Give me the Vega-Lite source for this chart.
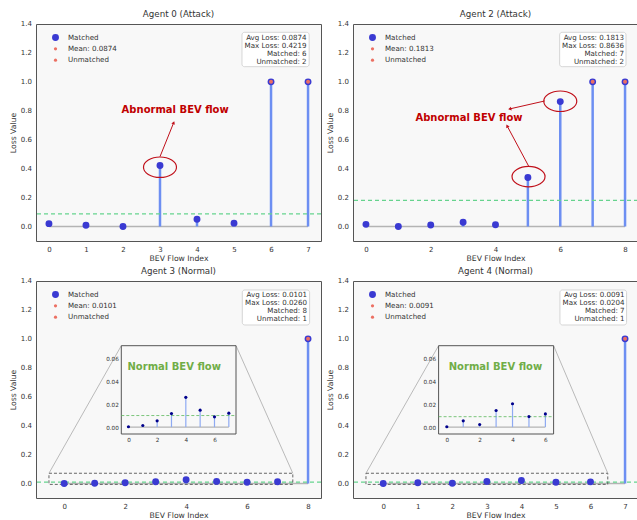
{
"$schema": "https://vega.github.io/schema/vega-lite/v6.json",
"background": "white",
"padding": {"left": 8, "top": 9, "right": 0, "bottom": 0},
"datasets": {
 "a0": [{"i":0,"loss":0.02,"m":1},{"i":1,"loss":0.009,"m":1},{"i":2,"loss":0.0,"m":1},{"i":3,"loss":0.4219,"m":1},{"i":4,"loss":0.05,"m":1},{"i":5,"loss":0.0235,"m":1},{"i":6,"loss":1.0,"m":0},{"i":7,"loss":1.0,"m":0}],
 "a2": [{"i":0,"loss":0.015,"m":1},{"i":1,"loss":0.0,"m":1},{"i":2,"loss":0.01,"m":1},{"i":3,"loss":0.03,"m":1},{"i":4,"loss":0.012,"m":1},{"i":5,"loss":0.3385,"m":1},{"i":6,"loss":0.8636,"m":1},{"i":7,"loss":1.0,"m":0},{"i":8,"loss":1.0,"m":0}],
 "a3": [{"i":0,"loss":0.0003,"m":1},{"i":1,"loss":0.0014,"m":1},{"i":2,"loss":0.0055,"m":1},{"i":3,"loss":0.0118,"m":1},{"i":4,"loss":0.026,"m":1},{"i":5,"loss":0.0148,"m":1},{"i":6,"loss":0.009,"m":1},{"i":7,"loss":0.0122,"m":1},{"i":8,"loss":1.0,"m":0}],
 "a4": [{"i":0,"loss":0.0003,"m":1},{"i":1,"loss":0.0055,"m":1},{"i":2,"loss":0.0023,"m":1},{"i":3,"loss":0.0145,"m":1},{"i":4,"loss":0.0204,"m":1},{"i":5,"loss":0.0092,"m":1},{"i":6,"loss":0.0115,"m":1},{"i":7,"loss":1.0,"m":0}],
 "yt": [{"v":0},{"v":0.2},{"v":0.4},{"v":0.6},{"v":0.8},{"v":1.0},{"v":1.2},{"v":1.4}]
},
"columns": 2,
"spacing": {"row": 3, "column": 2},
"resolve": {"scale": {"color": "independent", "size": "independent"}, "legend": {"color": "independent", "size": "independent"}},
"concat": [
 {
  "title": "Agent 0 (Attack)",
  "width": 285, "height": 217,
  "data": {"name": "a0"},
  "layer": [
   {"data": {"values": [{}]}, "mark": {"type": "rule", "color": "#b4b4b4", "strokeWidth": 1.5},
    "encoding": {"x": {"datum": 0}, "x2": {"datum": 7}, "y": {"datum": 0}}},
   {"mark": {"type": "rule", "color": "#6d8ff2", "strokeWidth": 2.5},
    "encoding": {
     "x": {"field": "i", "type": "quantitative", "scale": {"domain": [-0.35, 7.35], "nice": false, "zero": false}, "axis": {"title": "BEV Flow Index", "values": [0,1,2,3,4,5,6,7], "format": "d", "labelOverlap": false}},
     "y": {"field": "loss", "type": "quantitative", "scale": {"domain": [-0.1, 1.4], "nice": false, "zero": false}, "axis": {"title": "Loss Value", "values": [0,0.2,0.4,0.6,0.8,1,1.2,1.4], "labels": false, "titlePadding": 19}},
     "y2": {"datum": 0}}},
   {"data": {"name": "yt"}, "mark": {"type": "text", "align": "right", "baseline": "middle", "dx": -4, "fontSize": 7, "color": "#333333"},
    "encoding": {"x": {"datum": -0.35}, "y": {"field": "v", "type": "quantitative"}, "text": {"field": "v", "type": "quantitative", "format": ".1f"}}},
   {"data": {"values": [{}]}, "mark": {"type": "rule", "color": "#66d38e", "strokeWidth": 1.2, "strokeDash": [4, 3]},
    "encoding": {"y": {"datum": 0.0874}}},
   {"mark": {"type": "point", "filled": true, "opacity": 1},
    "encoding": {"x": {"field": "i", "type": "quantitative"}, "y": {"field": "loss", "type": "quantitative"},
     "color": {"datum": "Matched", "type": "nominal", "scale": {"domain": ["Matched", "Mean: 0.0874", "Unmatched"], "range": ["#3a3ad2", "#ec7063", "#ec7063"]}, "legend": {"title": null, "orient": "top-left"}},
     "size": {"datum": "Matched", "type": "nominal", "scale": {"type": "ordinal", "domain": ["Matched", "Mean: 0.0874", "Unmatched"], "range": [48, 10, 10]}, "legend": {"title": null, "orient": "top-left"}}}},
   {"transform": [{"filter": "datum.m == 0"}], "mark": {"type": "point", "filled": true, "opacity": 1, "size": 16},
    "encoding": {"x": {"field": "i", "type": "quantitative"}, "y": {"field": "loss", "type": "quantitative"}, "color": {"datum": "Unmatched", "type": "nominal"}}},
   {"data": {"values": [{}]}, "mark": {"type": "point", "shape": "M -1 0 A 1 0.62 0 1 0 1 0 A 1 0.62 0 1 0 -1 0 Z", "size": 1089, "filled": false, "stroke": "#c0101a", "strokeWidth": 1.2, "opacity": 1},
    "encoding": {"x": {"datum": 3.0}, "y": {"datum": 0.41}}},
   {"data": {"values": [{}]}, "mark": {"type": "rule", "color": "#c0101a", "strokeWidth": 1},
    "encoding": {"x": {"datum": 3.0}, "y": {"datum": 0.483}, "x2": {"datum": 3.37}, "y2": {"datum": 0.718}}},
   {"data": {"values": [{}]}, "mark": {"type": "point", "shape": "triangle-up", "size": 14, "filled": true, "color": "#c0101a", "angle": 22, "opacity": 1},
    "encoding": {"x": {"datum": 3.37}, "y": {"datum": 0.718}}},
   {"data": {"values": [{}]}, "mark": {"type": "text", "text": "Abnormal BEV flow", "fontSize": 10, "fontWeight": "bold", "color": "#c00000", "align": "center", "baseline": "middle"},
    "encoding": {"x": {"datum": 3.41}, "y": {"datum": 0.806}}},
   {"data": {"values": [{}]}, "mark": {"type": "rect", "fill": "white", "stroke": "#cccccc", "strokeWidth": 0.8, "cornerRadius": 2.5},
    "encoding": {"x": {"datum": 5.215}, "x2": {"datum": 7.03}, "y": {"datum": 1.105}, "y2": {"datum": 1.3425}}},
   {"data": {"values": [{}]}, "mark": {"type": "text", "text": ["Avg Loss: 0.0874", "Max Loss: 0.4219", "Matched: 6", "Unmatched: 2"], "fontSize": 7.1, "align": "right", "baseline": "top", "lineHeight": 8, "color": "#333333"},
    "encoding": {"x": {"datum": 6.96}, "y": {"datum": 1.334}}}
  ]
 },
 {
  "title": "Agent 2 (Attack)",
  "width": 285, "height": 217,
  "data": {"name": "a2"},
  "layer": [
   {"data": {"values": [{}]}, "mark": {"type": "rule", "color": "#b4b4b4", "strokeWidth": 1.5},
    "encoding": {"x": {"datum": 0}, "x2": {"datum": 8}, "y": {"datum": 0}}},
   {"mark": {"type": "rule", "color": "#6d8ff2", "strokeWidth": 2.5},
    "encoding": {
     "x": {"field": "i", "type": "quantitative", "scale": {"domain": [-0.4, 8.4], "nice": false, "zero": false}, "axis": {"title": "BEV Flow Index", "values": [0,1,2,3,4,5,6,7,8], "format": "d", "labelOverlap": false}},
     "y": {"field": "loss", "type": "quantitative", "scale": {"domain": [-0.1, 1.4], "nice": false, "zero": false}, "axis": {"title": "Loss Value", "values": [0,0.2,0.4,0.6,0.8,1,1.2,1.4], "labels": false, "titlePadding": 19}},
     "y2": {"datum": 0}}},
   {"data": {"name": "yt"}, "mark": {"type": "text", "align": "right", "baseline": "middle", "dx": -4, "fontSize": 7, "color": "#333333"},
    "encoding": {"x": {"datum": -0.4}, "y": {"field": "v", "type": "quantitative"}, "text": {"field": "v", "type": "quantitative", "format": ".1f"}}},
   {"data": {"values": [{}]}, "mark": {"type": "rule", "color": "#66d38e", "strokeWidth": 1.2, "strokeDash": [4, 3]},
    "encoding": {"y": {"datum": 0.1813}}},
   {"mark": {"type": "point", "filled": true, "opacity": 1},
    "encoding": {"x": {"field": "i", "type": "quantitative"}, "y": {"field": "loss", "type": "quantitative"},
     "color": {"datum": "Matched", "type": "nominal", "scale": {"domain": ["Matched", "Mean: 0.1813", "Unmatched"], "range": ["#3a3ad2", "#ec7063", "#ec7063"]}, "legend": {"title": null, "orient": "top-left"}},
     "size": {"datum": "Matched", "type": "nominal", "scale": {"type": "ordinal", "domain": ["Matched", "Mean: 0.1813", "Unmatched"], "range": [48, 10, 10]}, "legend": {"title": null, "orient": "top-left"}}}},
   {"transform": [{"filter": "datum.m == 0"}], "mark": {"type": "point", "filled": true, "opacity": 1, "size": 16},
    "encoding": {"x": {"field": "i", "type": "quantitative"}, "y": {"field": "loss", "type": "quantitative"}, "color": {"datum": "Unmatched", "type": "nominal"}}},
   {"data": {"values": [{}]}, "mark": {"type": "point", "shape": "M -1 0 A 1 0.62 0 1 0 1 0 A 1 0.62 0 1 0 -1 0 Z", "size": 1089, "filled": false, "stroke": "#c0101a", "strokeWidth": 1.2, "opacity": 1},
    "encoding": {"x": {"datum": 6.0}, "y": {"datum": 0.866}}},
   {"data": {"values": [{}]}, "mark": {"type": "point", "shape": "M -1 0 A 1 0.62 0 1 0 1 0 A 1 0.62 0 1 0 -1 0 Z", "size": 1089, "filled": false, "stroke": "#c0101a", "strokeWidth": 1.2, "opacity": 1},
    "encoding": {"x": {"datum": 5.02}, "y": {"datum": 0.345}}},
   {"data": {"values": [{}]}, "mark": {"type": "rule", "color": "#c0101a", "strokeWidth": 1},
    "encoding": {"x": {"datum": 5.52}, "y": {"datum": 0.868}, "x2": {"datum": 4.44}, "y2": {"datum": 0.813}}},
   {"data": {"values": [{}]}, "mark": {"type": "point", "shape": "triangle-up", "size": 14, "filled": true, "color": "#c0101a", "angle": 257, "opacity": 1},
    "encoding": {"x": {"datum": 4.44}, "y": {"datum": 0.813}}},
   {"data": {"values": [{}]}, "mark": {"type": "rule", "color": "#c0101a", "strokeWidth": 1},
    "encoding": {"x": {"datum": 5.02}, "y": {"datum": 0.419}, "x2": {"datum": 4.36}, "y2": {"datum": 0.695}}},
   {"data": {"values": [{}]}, "mark": {"type": "point", "shape": "triangle-up", "size": 14, "filled": true, "color": "#c0101a", "angle": 332, "opacity": 1},
    "encoding": {"x": {"datum": 4.36}, "y": {"datum": 0.695}}},
   {"data": {"values": [{}]}, "mark": {"type": "text", "text": "Abnormal BEV flow", "fontSize": 10, "fontWeight": "bold", "color": "#c00000", "align": "center", "baseline": "middle"},
    "encoding": {"x": {"datum": 3.18}, "y": {"datum": 0.753}}},
   {"data": {"values": [{}]}, "mark": {"type": "rect", "fill": "white", "stroke": "#cccccc", "strokeWidth": 0.8, "cornerRadius": 2.5},
    "encoding": {"x": {"datum": 5.98}, "x2": {"datum": 8.03}, "y": {"datum": 1.105}, "y2": {"datum": 1.3425}}},
   {"data": {"values": [{}]}, "mark": {"type": "text", "text": ["Avg Loss: 0.1813", "Max Loss: 0.8636", "Matched: 7", "Unmatched: 2"], "fontSize": 7.1, "align": "right", "baseline": "top", "lineHeight": 8, "color": "#333333"},
    "encoding": {"x": {"datum": 7.97}, "y": {"datum": 1.334}}}
  ]
 },
 {
  "title": "Agent 3 (Normal)",
  "width": 285, "height": 217,
  "data": {"name": "a3"},
  "resolve": {"scale": {"x": "independent", "y": "independent"}},
  "layer": [
   {"layer": [
    {"data": {"values": [{}]}, "mark": {"type": "rule", "color": "#b4b4b4", "strokeWidth": 1.5},
     "encoding": {"x": {"datum": 0}, "x2": {"datum": 8}, "y": {"datum": 0}}},
    {"mark": {"type": "rule", "color": "#6d8ff2", "strokeWidth": 2.5},
     "encoding": {
      "x": {"field": "i", "type": "quantitative", "scale": {"domain": [-0.925, 8.425], "nice": false, "zero": false}, "axis": {"title": "BEV Flow Index", "values": [0,2,4,6,8], "format": "d", "labelOverlap": false}},
      "y": {"field": "loss", "type": "quantitative", "scale": {"domain": [-0.1, 1.4], "nice": false, "zero": false}, "axis": {"title": "Loss Value", "values": [0,0.2,0.4,0.6,0.8,1,1.2,1.4], "labels": false, "titlePadding": 19}},
      "y2": {"datum": 0}}},
    {"data": {"name": "yt"}, "mark": {"type": "text", "align": "right", "baseline": "middle", "dx": -4, "fontSize": 7, "color": "#333333"},
     "encoding": {"x": {"datum": -0.925}, "y": {"field": "v", "type": "quantitative"}, "text": {"field": "v", "type": "quantitative", "format": ".1f"}}},
    {"data": {"values": [{}]}, "mark": {"type": "rule", "color": "#66d38e", "strokeWidth": 1.2, "strokeDash": [4, 3]},
     "encoding": {"y": {"datum": 0.0101}}},
    {"data": {"values": [{}]}, "mark": {"type": "rect", "fillOpacity": 0, "stroke": "#555555", "strokeWidth": 0.9, "strokeDash": [3, 2]},
     "encoding": {"x": {"datum": -0.5}, "x2": {"datum": 7.5}, "y": {"datum": -0.006}, "y2": {"datum": 0.071}}},
    {"data": {"values": [{}]}, "mark": {"type": "rule", "color": "#aaaaaa", "strokeWidth": 0.8},
     "encoding": {"x": {"datum": -0.5}, "y": {"datum": 0.071}, "x2": {"datum": 1.874}, "y2": {"datum": 0.953}}},
    {"data": {"values": [{}]}, "mark": {"type": "rule", "color": "#aaaaaa", "strokeWidth": 0.8},
     "encoding": {"x": {"datum": 7.5}, "y": {"datum": 0.071}, "x2": {"datum": 5.637}, "y2": {"datum": 0.953}}},
    {"mark": {"type": "point", "filled": true, "opacity": 1},
     "encoding": {"x": {"field": "i", "type": "quantitative"}, "y": {"field": "loss", "type": "quantitative"},
      "color": {"datum": "Matched", "type": "nominal", "scale": {"domain": ["Matched", "Mean: 0.0101", "Unmatched"], "range": ["#3a3ad2", "#ec7063", "#ec7063"]}, "legend": {"title": null, "orient": "top-left"}},
      "size": {"datum": "Matched", "type": "nominal", "scale": {"type": "ordinal", "domain": ["Matched", "Mean: 0.0101", "Unmatched"], "range": [48, 10, 10]}, "legend": {"title": null, "orient": "top-left"}}}},
    {"transform": [{"filter": "datum.m == 0"}], "mark": {"type": "point", "filled": true, "opacity": 1, "size": 16},
     "encoding": {"x": {"field": "i", "type": "quantitative"}, "y": {"field": "loss", "type": "quantitative"}, "color": {"datum": "Unmatched", "type": "nominal"}}},
    {"data": {"values": [{}]}, "mark": {"type": "rect", "fill": "white", "stroke": "#cccccc", "strokeWidth": 0.8, "cornerRadius": 2.5},
     "encoding": {"x": {"datum": 5.843}, "x2": {"datum": 8.051}, "y": {"datum": 1.096}, "y2": {"datum": 1.338}}},
    {"data": {"values": [{}]}, "mark": {"type": "text", "text": ["Avg Loss: 0.0101", "Max Loss: 0.0260", "Matched: 8", "Unmatched: 1"], "fontSize": 7.1, "align": "right", "baseline": "top", "lineHeight": 8, "color": "#333333"},
     "encoding": {"x": {"datum": 7.966}, "y": {"datum": 1.331}}}
   ]},
   {"transform": [{"filter": "datum.m == 1"}], "layer": [
    {"data": {"values": [{}]}, "mark": {"type": "rect", "fill": "#f8f8f8", "stroke": "#555555", "strokeWidth": 1},
     "encoding": {"x": {"datum": -0.5}, "x2": {"datum": 7.5}, "y": {"datum": -0.006}, "y2": {"datum": 0.071}}},
    {"data": {"values": [{}]}, "mark": {"type": "rule", "color": "#b4b4b4", "strokeWidth": 1.2},
     "encoding": {"x": {"datum": 0}, "x2": {"datum": 7}, "y": {"datum": 0}}},
    {"mark": {"type": "rule", "color": "#8eaaf2", "strokeWidth": 1.2},
     "encoding": {
      "x": {"field": "i", "type": "quantitative", "scale": {"domain": [-0.5, 7.5], "range": [85.3, 200], "nice": false, "zero": false},
       "axis": {"orient": "bottom", "offset": -64, "values": [0,2,4,6], "format": "d", "title": null, "grid": false, "domain": false, "ticks": false, "labelFontSize": 5.7, "labelPadding": 2.5, "zindex": 1, "labelOverlap": false}},
      "y": {"field": "loss", "type": "quantitative", "scale": {"domain": [-0.006, 0.071], "range": [153, 64.7], "nice": false, "zero": false},
       "axis": {"orient": "left", "offset": -85.3, "values": [0,0.02,0.04,0.06], "format": ".2f", "title": null, "grid": false, "domain": false, "ticks": false, "labelFontSize": 5.7, "labelPadding": 3, "zindex": 1, "labelOverlap": false}},
      "y2": {"datum": 0}}},
    {"data": {"values": [{}]}, "mark": {"type": "rule", "color": "#5cb85c", "strokeWidth": 0.8, "strokeDash": [3, 2]},
     "encoding": {"x": {"datum": -0.5}, "x2": {"datum": 7.5}, "y": {"datum": 0.0101}}},
    {"mark": {"type": "point", "filled": true, "opacity": 1, "size": 10, "color": "#00008b"},
     "encoding": {"x": {"field": "i", "type": "quantitative"}, "y": {"field": "loss", "type": "quantitative"}}},
    {"data": {"values": [{}]}, "mark": {"type": "text", "text": "Normal BEV flow", "fontSize": 10, "fontWeight": "bold", "color": "#70ad47", "align": "center", "baseline": "middle"},
     "encoding": {"x": {"datum": 3.19}, "y": {"datum": 0.0527}}}
   ]}
  ]
 },
 {
  "title": "Agent 4 (Normal)",
  "width": 285, "height": 217,
  "data": {"name": "a4"},
  "resolve": {"scale": {"x": "independent", "y": "independent"}},
  "layer": [
   {"layer": [
    {"data": {"values": [{}]}, "mark": {"type": "rule", "color": "#b4b4b4", "strokeWidth": 1.5},
     "encoding": {"x": {"datum": 0}, "x2": {"datum": 7}, "y": {"datum": 0}}},
    {"mark": {"type": "rule", "color": "#6d8ff2", "strokeWidth": 2.5},
     "encoding": {
      "x": {"field": "i", "type": "quantitative", "scale": {"domain": [-0.875, 7.375], "nice": false, "zero": false}, "axis": {"title": "BEV Flow Index", "values": [0,1,2,3,4,5,6,7], "format": "d", "labelOverlap": false}},
      "y": {"field": "loss", "type": "quantitative", "scale": {"domain": [-0.1, 1.4], "nice": false, "zero": false}, "axis": {"title": "Loss Value", "values": [0,0.2,0.4,0.6,0.8,1,1.2,1.4], "labels": false, "titlePadding": 19}},
      "y2": {"datum": 0}}},
    {"data": {"name": "yt"}, "mark": {"type": "text", "align": "right", "baseline": "middle", "dx": -4, "fontSize": 7, "color": "#333333"},
     "encoding": {"x": {"datum": -0.875}, "y": {"field": "v", "type": "quantitative"}, "text": {"field": "v", "type": "quantitative", "format": ".1f"}}},
    {"data": {"values": [{}]}, "mark": {"type": "rule", "color": "#66d38e", "strokeWidth": 1.2, "strokeDash": [4, 3]},
     "encoding": {"y": {"datum": 0.0091}}},
    {"data": {"values": [{}]}, "mark": {"type": "rect", "fillOpacity": 0, "stroke": "#555555", "strokeWidth": 0.9, "strokeDash": [3, 2]},
     "encoding": {"x": {"datum": -0.5}, "x2": {"datum": 6.5}, "y": {"datum": -0.006}, "y2": {"datum": 0.071}}},
    {"data": {"values": [{}]}, "mark": {"type": "rule", "color": "#aaaaaa", "strokeWidth": 0.8},
     "encoding": {"x": {"datum": -0.5}, "y": {"datum": 0.071}, "x2": {"datum": 1.603}, "y2": {"datum": 0.953}}},
    {"data": {"values": [{}]}, "mark": {"type": "rule", "color": "#aaaaaa", "strokeWidth": 0.8},
     "encoding": {"x": {"datum": 6.5}, "y": {"datum": 0.071}, "x2": {"datum": 4.932}, "y2": {"datum": 0.953}}},
    {"mark": {"type": "point", "filled": true, "opacity": 1},
     "encoding": {"x": {"field": "i", "type": "quantitative"}, "y": {"field": "loss", "type": "quantitative"},
      "color": {"datum": "Matched", "type": "nominal", "scale": {"domain": ["Matched", "Mean: 0.0091", "Unmatched"], "range": ["#3a3ad2", "#ec7063", "#ec7063"]}, "legend": {"title": null, "orient": "top-left"}},
      "size": {"datum": "Matched", "type": "nominal", "scale": {"type": "ordinal", "domain": ["Matched", "Mean: 0.0091", "Unmatched"], "range": [48, 10, 10]}, "legend": {"title": null, "orient": "top-left"}}}},
    {"transform": [{"filter": "datum.m == 0"}], "mark": {"type": "point", "filled": true, "opacity": 1, "size": 16},
     "encoding": {"x": {"field": "i", "type": "quantitative"}, "y": {"field": "loss", "type": "quantitative"}, "color": {"datum": "Unmatched", "type": "nominal"}}},
    {"data": {"values": [{}]}, "mark": {"type": "rect", "fill": "white", "stroke": "#cccccc", "strokeWidth": 0.8, "cornerRadius": 2.5},
     "encoding": {"x": {"datum": 5.116}, "x2": {"datum": 7.044}, "y": {"datum": 1.096}, "y2": {"datum": 1.338}}},
    {"data": {"values": [{}]}, "mark": {"type": "text", "text": ["Avg Loss: 0.0091", "Max Loss: 0.0204", "Matched: 7", "Unmatched: 1"], "fontSize": 7.1, "align": "right", "baseline": "top", "lineHeight": 8, "color": "#333333"},
     "encoding": {"x": {"datum": 6.986}, "y": {"datum": 1.331}}}
   ]},
   {"transform": [{"filter": "datum.m == 1"}], "layer": [
    {"data": {"values": [{}]}, "mark": {"type": "rect", "fill": "#f8f8f8", "stroke": "#555555", "strokeWidth": 1},
     "encoding": {"x": {"datum": -0.5}, "x2": {"datum": 6.5}, "y": {"datum": -0.006}, "y2": {"datum": 0.071}}},
    {"data": {"values": [{}]}, "mark": {"type": "rule", "color": "#b4b4b4", "strokeWidth": 1.2},
     "encoding": {"x": {"datum": 0}, "x2": {"datum": 6}, "y": {"datum": 0}}},
    {"mark": {"type": "rule", "color": "#8eaaf2", "strokeWidth": 1.2},
     "encoding": {
      "x": {"field": "i", "type": "quantitative", "scale": {"domain": [-0.5, 6.5], "range": [85.6, 200.6], "nice": false, "zero": false},
       "axis": {"orient": "bottom", "offset": -64, "values": [0,2,4,6], "format": "d", "title": null, "grid": false, "domain": false, "ticks": false, "labelFontSize": 5.7, "labelPadding": 2.5, "zindex": 1, "labelOverlap": false}},
      "y": {"field": "loss", "type": "quantitative", "scale": {"domain": [-0.006, 0.071], "range": [153, 64.7], "nice": false, "zero": false},
       "axis": {"orient": "left", "offset": -85.6, "values": [0,0.02,0.04,0.06], "format": ".2f", "title": null, "grid": false, "domain": false, "ticks": false, "labelFontSize": 5.7, "labelPadding": 3, "zindex": 1, "labelOverlap": false}},
      "y2": {"datum": 0}}},
    {"data": {"values": [{}]}, "mark": {"type": "rule", "color": "#5cb85c", "strokeWidth": 0.8, "strokeDash": [3, 2]},
     "encoding": {"x": {"datum": -0.5}, "x2": {"datum": 6.5}, "y": {"datum": 0.0091}}},
    {"mark": {"type": "point", "filled": true, "opacity": 1, "size": 10, "color": "#00008b"},
     "encoding": {"x": {"field": "i", "type": "quantitative"}, "y": {"field": "loss", "type": "quantitative"}}},
    {"data": {"values": [{}]}, "mark": {"type": "text", "text": "Normal BEV flow", "fontSize": 10, "fontWeight": "bold", "color": "#70ad47", "align": "center", "baseline": "middle"},
     "encoding": {"x": {"datum": 2.96}, "y": {"datum": 0.0527}}}
   ]}
  ]
 }
],
"config": {
 "font": "DejaVu Sans",
 "view": {"fill": "#f8f8f8", "stroke": "#555555", "strokeWidth": 1},
 "axis": {"labelFontSize": 7, "labelColor": "#333333", "titleFontSize": 7.7, "titleFontWeight": "normal", "titleColor": "#333333", "ticks": false, "domain": false, "gridColor": "#e0e0e0", "gridDash": [3, 2], "gridWidth": 0.7, "labelPadding": 4, "labelOverlap": false},
 "axisX": {"titlePadding": 2},
 "title": {"fontSize": 8.7, "fontWeight": "normal", "color": "#333333", "offset": 1.5},
 "legend": {"labelFontSize": 7.1, "labelColor": "#333333", "rowPadding": 3.3, "labelOffset": 8, "symbolOffset": 6, "offset": 9, "padding": 0}
}
}
